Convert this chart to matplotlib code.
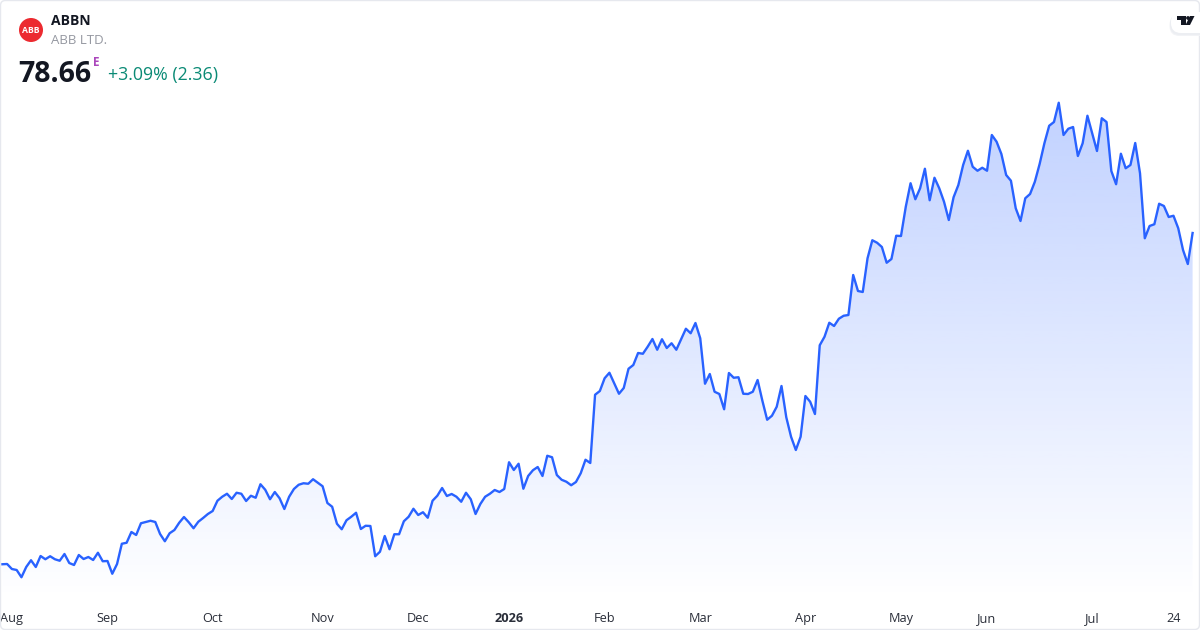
import matplotlib
matplotlib.use("Agg")
import matplotlib.pyplot as plt
import numpy as np
from matplotlib.patches import Circle, FancyBboxPatch, Polygon

closes = [
    52.16, 52.18, 51.78, 51.70, 51.12, 51.94, 52.48, 51.94, 52.82, 52.56,
    52.80, 52.56, 52.44, 52.98, 52.26, 52.10, 52.90, 52.58, 52.74, 52.50,
    53.08, 52.40, 52.42, 51.40, 52.18, 53.80, 53.88, 54.74, 54.50, 55.44,
    55.54, 55.64, 55.54, 54.58, 54.00, 54.64, 54.90, 55.48, 55.94, 55.52,
    55.04, 55.56, 55.86, 56.18, 56.42, 57.24, 57.56, 57.80, 57.38, 57.88,
    57.80, 57.22, 57.64, 57.48, 58.56, 58.12, 57.36, 57.94, 57.44, 56.58,
    57.56, 58.18, 58.52, 58.64, 58.60, 58.96, 58.68, 58.40, 57.06, 56.76,
    55.40, 54.96, 55.68, 55.96, 56.28, 54.98, 55.24, 55.22, 52.80, 53.16,
    54.42, 53.36, 54.56, 54.56, 55.60, 55.96, 56.60, 56.10, 56.32, 55.88,
    57.24, 57.64, 58.26, 57.62, 57.78, 57.56, 57.16, 57.88, 57.36, 56.18,
    56.98, 57.56, 57.80, 58.10, 57.94, 58.18, 60.32, 59.70, 60.20, 58.20,
    59.22, 59.68, 59.94, 59.22, 60.84, 60.72, 59.30, 58.92, 58.76, 58.48,
    58.74, 59.44, 60.52, 60.26, 65.72, 66.02, 67.04, 67.48, 66.64, 65.80,
    66.26, 67.80, 68.10, 69.06, 69.00, 69.56, 70.18, 69.32, 70.16, 69.46,
    69.84, 69.32, 70.16, 71.00, 70.64, 71.46, 70.24, 66.60, 67.38, 65.96,
    65.78, 64.56, 67.46, 67.08, 67.12, 65.80, 65.78, 65.96, 66.90, 65.24,
    63.72, 64.04, 64.76, 66.42, 63.92, 62.36, 61.30, 62.36, 65.62, 65.16,
    64.18, 69.68, 70.36, 71.48, 71.22, 71.80, 72.04, 72.10, 75.30, 74.02,
    73.94, 76.64, 78.08, 77.88, 77.54, 76.28, 76.58, 78.44, 78.42, 80.76,
    82.64, 81.36, 82.24, 83.80, 81.28, 83.08, 82.24, 81.16, 79.70, 81.52,
    82.50, 84.10, 85.24, 83.96, 83.64, 83.88, 83.64, 86.50, 85.96, 84.98,
    83.30, 82.84, 80.64, 79.62, 81.44, 81.78, 82.76, 84.18, 85.84, 87.24,
    87.54, 89.08, 86.50, 87.00, 87.14, 84.82, 85.84, 88.04, 86.64, 85.22,
    87.84, 87.54, 83.62, 82.56, 85.00, 83.84, 84.10, 85.86, 83.44, 78.24,
    79.22, 79.36, 81.00, 80.82, 79.94, 80.04, 79.04, 77.30, 76.18, 78.66,
]
tick_days = [2, 22, 44, 67, 87, 106, 126, 146, 168, 188, 206, 228, 245]
tick_labels = ["Aug", "Sep", "Oct", "Nov", "Dec", "2026", "Feb", "Mar", "Apr", "May", "Jun", "Jul", "24"]

W, H = 1200, 630
BLUE = "#2962FF"


def px_text(fig, x, y, s, **kw):
    # x, y in screen pixels from the top left
    return fig.text(x / W, 1 - y / H, s, **kw)


def draw_chart(fig):
    ax = fig.add_axes([0, 30 / H, 1, 600 / H])
    days = np.arange(len(closes))

    # vertical fade under the line, clipped to the area
    grad = np.zeros((256, 1, 4))
    grad[..., 0:3] = matplotlib.colors.to_rgb(BLUE)
    grad[:, 0, 3] = np.linspace(0.30, 0.0, 256)
    area = ax.fill_between(days, closes, 49.30, color="none", lw=0)
    img = ax.imshow(grad, extent=[days[0], days[-1], 49.30, 90.5], origin="upper",
                    aspect="auto", zorder=1, interpolation="bilinear")
    img.set_clip_path(area.get_paths()[0], ax.transData)
    ax.set_xlim(-0.487, 250.55)
    ax.set_ylim(49.30, 97.30)

    ax.plot(days, closes, color=BLUE, lw=1.7, zorder=2, solid_joinstyle="round")

    for side in ax.spines.values():
        side.set_visible(False)
    ax.set_yticks([])
    ax.set_xticks(tick_days, tick_labels)
    ax.tick_params(axis="x", length=0, pad=15.8, labelsize=9.2, labelcolor="#2A2E39")
    for lab in ax.get_xticklabels():
        lab.set_fontfamily("Open Sans")
        lab.set_verticalalignment("baseline")
        if lab.get_text() == "2026":
            lab.set_fontweight("bold")
    ax.patch.set_alpha(0)


def draw_header(fig):
    over = fig.add_axes([0, 0, 1, 1])
    over.set_xlim(0, W)
    over.set_ylim(H, 0)
    over.axis("off")
    over.patch.set_alpha(0)

    # card border
    over.add_patch(FancyBboxPatch((0.5, 0.5), W - 1, H - 1, boxstyle="round,pad=0,rounding_size=5",
                                  fc="none", ec="#E6E8EE", lw=1.0))

    # logo
    over.add_patch(Circle((31, 30), 12, fc="#EC2A30", ec="none"))
    px_text(fig, 31, 30.5, "ABB", color="white", fontsize=6.2, fontweight="bold",
            family="Open Sans", ha="center", va="center")

    # tradingview badge
    for off, col in [(3, "#F2F3F6"), (2, "#ECEEF2"), (0, "white")]:
        over.add_patch(FancyBboxPatch((1171 - off / 2, 12 + off), 40, 21,
                                      boxstyle="round,pad=0,rounding_size=10",
                                      fc=col, ec="none"))
    over.add_patch(Polygon([(1177, 16), (1185.5, 16), (1185.5, 25), (1181, 25), (1181, 20), (1177, 20)],
                           fc="#131722", ec="none"))
    over.add_patch(Circle((1188, 18), 1.9, fc="#131722", ec="none"))
    over.add_patch(Polygon([(1190, 16), (1194.5, 16), (1190, 25), (1185.5, 25)],
                           fc="#131722", ec="none"))

    px_text(fig, 51, 21, "ABBN", color="#131722", fontsize=10, fontweight="bold",
            family="Open Sans", va="center")
    px_text(fig, 51, 40.5, "ABB LTD.", color="#9598A1", fontsize=9.5,
            family="Open Sans", va="center")
    px_text(fig, 18.5, 74, "78.66", color="#131722", fontsize=20.5, fontweight="bold",
            family="Open Sans", va="center")
    px_text(fig, 93, 62, "E", color="#AB47BC", fontsize=8.5, fontweight="bold",
            family="Open Sans", va="center")
    px_text(fig, 108, 75, "+3.09% (2.36)", color="#0A8A75", fontsize=12.8,
            family="Open Sans", va="center")


def main() -> None:
    fig = plt.figure(figsize=(W / 100, H / 100), dpi=100, facecolor="white")
    draw_chart(fig)
    draw_header(fig)
    fig.savefig("out.png", dpi=100)


if __name__ == "__main__":
    main()
